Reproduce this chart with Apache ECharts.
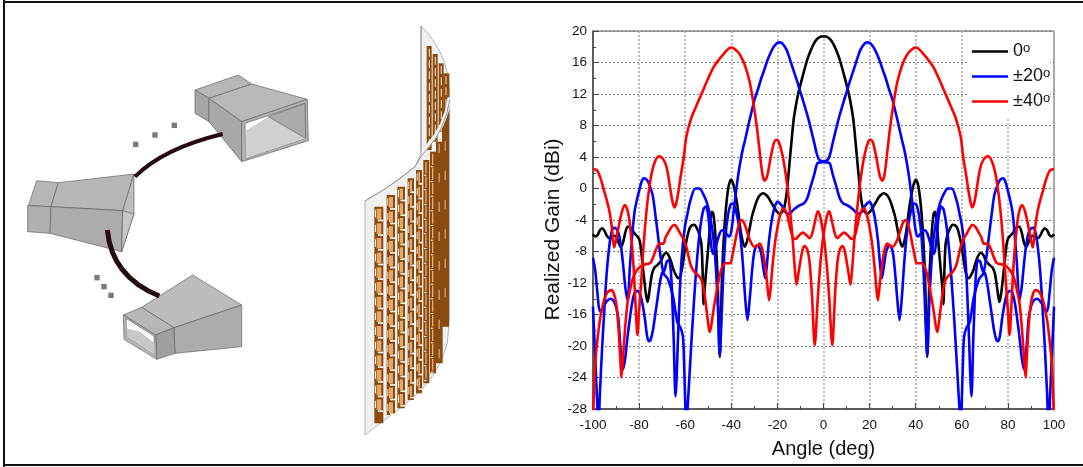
<!DOCTYPE html>
<html><head><meta charset="utf-8">
<style>html,body{margin:0;padding:0;background:#fff}#c{width:1083px;height:467px}</style>
<script src="https://cdn.jsdelivr.net/npm/echarts@6/dist/echarts.min.js"></script>
</head><body><div id="c"></div>
<script>
const FONT = '"Liberation Sans", Arial, sans-serif';
const xTicks = { min: -100, max: 100, step: 20 };
const yTicks = { min: -28, max: 20, step: 4 };
const legendNames = ['0', '±20', '±40'];

// 0° beam
const blackAngles = [-100,-99,-98,-97,-96,-95,-94,-93,-92,-91,-90,-89,-88,-87,-86,-85,-84,-83,-82,-81,-80,-79.5,-79,-78,-77,-76.3,-75.5,-74.5,-73.5,-72,-70.5,-69.5,-68.2,-67,-66,-65,-64,-63,-62,-61,-60,-59,-58,-57,-56,-55,-54,-53,-52.5,-52,-51.5,-51,-50,-49,-48.4,-47.8,-47,-46,-45,-44,-43,-42,-41,-40,-39,-38,-37,-36,-35,-34.2,-33,-32,-31,-30,-29,-28,-27,-26,-25,-24,-23,-22,-21,-20,-19,-18,-17,-16,-15,-14,-13,-12,-11,-10,-9,-8,-7,-6,-5,-4,-3,-2,-1,0,
1,2,3,4,5,6,7,8,9,10,11,12,13,14,15,16,17,18,19,20,21,22,23,24,25,26,27,28,29,30,31,32,33,34.2,35,36,37,38,39,40,41,42,43,44,45,46,47,47.8,48.4,49,50,51,51.5,52,52.5,53,54,55,56,57,58,59,60,61,62,63,64,65,66,67,68.2,69.5,70.5,72,73.5,74.5,75.5,76.3,77,78,79,79.5,80,81,82,83,84,85,86,87,88,89,90,91,92,93,94,95,96,97,98,99,100];
const blackGain = [-5.8,-6.1,-5.9,-5.3,-5.05,-5.4,-6,-6.3,-6.3,-6,-6.1,-6.8,-7.4,-6.9,-5.6,-4.85,-4.9,-5.3,-5.7,-6,-6.4,-7,-8.2,-11,-13.5,-14.4,-13,-11,-10.1,-9.7,-9.2,-8.5,-8.15,-8.6,-9.4,-10.4,-11,-11.4,-11,-9.5,-7.5,-6,-5,-4.65,-4.6,-5,-5.7,-7,-10,-14.7,-12.5,-10.8,-7.5,-4,-2.95,-3.2,-5.5,-11,-21.4,-11,-5,-1.5,0.5,1.15,0.4,-1,-2.9,-5.3,-6.8,-7.4,-6.5,-5,-3.5,-2.5,-1.6,-1,-0.7,-0.6,-0.8,-1.1,-1.6,-2.1,-2.6,-3,-3.2,-3,-2.4,-0.6,2.4,5.6,8.6,10.5,12,13.2,14.3,15.4,16.4,17.2,17.9,18.5,18.9,19.15,19.3,19.3,
19.3,19.15,18.9,18.5,17.9,17.2,16.4,15.4,14.3,13.2,12,10.5,8.6,5.6,2.4,-0.6,-2.4,-3,-3.2,-3,-2.6,-2.1,-1.6,-1.1,-0.8,-0.6,-0.7,-1,-1.6,-2.5,-3.5,-5,-6.5,-7.4,-6.8,-5.3,-2.9,-1,0.4,1.15,0.5,-1.5,-5,-11,-21.4,-11,-5.5,-3.2,-2.95,-4,-7.5,-10.8,-12.5,-14.7,-10,-7,-5.7,-5,-4.6,-4.65,-5,-6,-7.5,-9.5,-11,-11.4,-11,-10.4,-9.4,-8.6,-8.15,-8.5,-9.2,-9.7,-10.1,-11,-13,-14.4,-13.5,-11,-8.2,-7,-6.4,-6,-5.7,-5.3,-4.9,-4.85,-5.6,-6.9,-7.4,-6.8,-6.1,-6,-6.3,-6.3,-6,-5.4,-5.05,-5.3,-5.9,-6.1,-5.8];

// +20° beam; the -20° beam is its mirror image in the figure
const blueAngles = [-100,-99,-98,-97,-95.5,-94,-92.5,-91,-90,-89,-88,-87,-86,-85,-84,-83,-82,-81,-80,-79,-77.5,-76.5,-75.7,-75,-74,-73,-72,-71,-70,-69,-68,-67,-66,-65.5,-65,-64.2,-63,-62,-61,-60,-59,-58,-55.6,-54,-52,-50.5,-49,-47.5,-46.5,-45.7,-45,-44.3,-43.5,-42.5,-41.5,-40.5,-39.6,-39,-38,-37,-36,-35,-34,-33,-32,-31,-30,-28.7,-28,-27,-26,-25.3,-24.5,-23.6,-22.2,-21,-20,-18,-16.5,-15,-13,-11.3,-10,-8.5,-7,-5.6,-4,-2.7,-1.5,0,
1,2,3,4,5,6,7,8,9,10,11,12,13,14,15,16,17,18,19,20,21,22,23,24,25,26,27,28,29,30,31,32,33,34,35,36,37,38,39,40,41,42,43,44,45,46,47,48,49,50,51,52,53,54,55,56,57,58,59,59.6,60,60.5,61,62,63.4,65.3,67.5,69.3,70.5,71,72,73,74,75,76,77,78,79,80,81,82,83,84,85,86,87,88,89,90,91,92,93,94,95,96,97,97.6,98.5,100];
const blueGain = [-8.8,-10.5,-13.5,-15.6,-15,-14.3,-14,-14.3,-15,-16.5,-20.5,-23,-21.5,-18.8,-16.5,-14.5,-13.3,-13,-13.2,-14,-16.5,-18.8,-19.4,-19.2,-18,-16,-14,-12,-10.7,-10.4,-9.3,-9.1,-11.5,-15,-19,-26.4,-18,-11,-7,-4.6,-3.2,-1.8,0,0,-0.8,-1.9,-3.8,-7,-11,-16,-21.2,-17,-11,-6,-3.5,-2.2,-1.9,-2,-2.8,-4.2,-6.2,-9.5,-13.8,-16.7,-14,-10.5,-8,-7.2,-7.4,-8.3,-10.3,-11.4,-9.5,-6.5,-3.6,-2.2,-1.7,-2.2,-3,-3.2,-2.7,-2.3,-2.1,-1.9,-1.2,0.2,1.8,3.2,3.3,3.4,
3.5,3.7,4.5,5.8,7,8.2,9.3,10.3,11.3,12.2,13.2,14.1,15,15.9,16.8,17.6,18.1,18.45,18.56,18.5,18.2,17.8,17.2,16.5,15.7,14.8,14,13,12.1,11.2,10,8.8,7.5,6.2,5,3.5,1.7,-0.5,-3,-5.4,-6.1,-5.8,-5.4,-5.3,-5.7,-6.6,-7.7,-8.3,-6.5,-3.5,-2.3,-2.6,-4,-6.3,-9.5,-13.5,-18,-23,-28,-30,-27,-22,-18.8,-17.7,-17,-13.7,-11.5,-10.8,-9,-8,-5.5,-3.2,-1,0,0.8,1.2,1.3,0.8,-0.3,-1.5,-3,-6,-10,-14.2,-12.5,-9.5,-7,-5.6,-5.1,-5,-5.6,-7.5,-10.5,-15,-20,-26,-30,-25,-15];

// +40° beam; the -40° beam is its mirror image in the figure
const redAngles = [-100,-99.6,-99,-98,-97,-96,-95,-94,-93,-92,-91,-90,-89,-88,-87.7,-87,-86,-85,-84,-83,-82,-80.5,-78.3,-76.5,-75,-74,-73,-72,-71,-69.5,-68.5,-67,-66,-64.6,-63.5,-62,-61,-59.5,-58.5,-57.5,-56,-54.5,-53,-52,-51,-50,-49.4,-48.8,-47.5,-46,-45,-44,-42.5,-40.5,-39.4,-38.5,-37.5,-36.5,-35.6,-34.8,-34,-32,-30,-29,-27.7,-27,-26,-25,-24.2,-23.6,-23,-22,-21,-20,-19,-17.6,-16.5,-15.5,-14.5,-13.2,-12,-11,-9,-7.5,-6,-5,-4,-3,-2.4,-1.5,-0.5,
0.5,1.5,2.5,3.8,5,6,7,8.2,9,10,11,11.7,12.5,13.5,15,16.5,18,19.5,20.4,21.5,23,24.5,25.5,26.5,28,29,30.6,32,33.4,35,37,39,40,41,43,45,47.5,50,52.5,55,57.3,59.5,60.6,62,63,64,64.6,65.5,66.5,68,69.5,71.4,73,74.5,76,77,78,79,80,80.7,81.5,82.5,84,85,86.2,87.5,89,90.8,91.8,92.8,94,95,96.4,98,99,100];
const redGain = [-30,-26,-22,-19,-16.7,-15.2,-14,-13.3,-13,-12.9,-13.3,-14.5,-17.5,-22.5,-24,-21.5,-17.5,-14.5,-13,-11.7,-10.9,-10.2,-9.7,-9.6,-9.4,-8.8,-8,-7.3,-7,-7,-6.2,-5.4,-4.9,-4.6,-5,-5.8,-6.3,-7.4,-8.7,-9.8,-10.6,-11,-11.6,-12.7,-14.8,-17.2,-18.2,-17.6,-15,-12.5,-11,-10,-9.5,-9.5,-8.3,-7,-5.5,-4.4,-4,-4.2,-4.7,-6.5,-7.4,-7.3,-7,-7.3,-8.5,-10.5,-12.8,-14.2,-12.8,-9.5,-6.8,-5,-3.6,-2.5,-2.8,-3.6,-5,-6.3,-6.4,-6.1,-5.6,-5.9,-6.3,-5.8,-4.6,-3.3,-2.9,-3.5,-5,
-7,-10,-14,-19.9,-13.5,-9.5,-7.8,-7.3,-7.7,-9.2,-11,-12.2,-10,-6,-1.5,2,4.5,6,6.2,5.8,3.8,1.5,1,1.8,5.5,8,11.2,13.5,15,16.3,17.3,17.8,17.9,17.8,17.2,16.5,15.5,14,12.3,10.6,9,6.6,4,1.5,-0.5,-2,-2.4,-1.7,0,2.6,3.7,4.1,3.5,2,-0.8,-3.5,-7,-11.5,-15.5,-18.6,-15,-9.5,-4.5,-2.8,-2.1,-3,-5,-7.5,-5,-3,-1.5,-0.5,1,2.2,2.4,2.5];

function pair(a, v) { return a.map((x, i) => [x, v[i]]); }
function mirror(a, v) { return a.map((x, i) => [-x, v[i]]).reverse(); }

const LW = 2.6;
const LINE = { type: 'line', showSymbol: false, symbol: 'none', smooth: 0.3, clip: true, silent: true, animation: false };
const series = [
  Object.assign({}, LINE, { name: legendNames[0], data: pair(blackAngles, blackGain), z: 3, lineStyle: { color: '#000', width: LW }, itemStyle: { color: '#000' } }),
  Object.assign({}, LINE, { name: legendNames[1], data: pair(blueAngles, blueGain), z: 4, lineStyle: { color: '#0000ff', width: LW }, itemStyle: { color: '#0000ff' } }),
  Object.assign({}, LINE, { name: legendNames[1], data: mirror(blueAngles, blueGain), z: 4, lineStyle: { color: '#0000ff', width: LW }, itemStyle: { color: '#0000ff' } }),
  Object.assign({}, LINE, { name: legendNames[2], data: pair(redAngles, redGain), z: 5, lineStyle: { color: '#ff0000', width: LW }, itemStyle: { color: '#ff0000' } }),
  Object.assign({}, LINE, { name: legendNames[2], data: mirror(redAngles, redGain), z: 5, lineStyle: { color: '#ff0000', width: LW }, itemStyle: { color: '#ff0000' } })
];

/* ---------- illustration (not data): coordinates are in crop pixels ---------- */
const art = [];
function poly(pts, ox, oy, fill, stroke) {
  art.push({ type: 'polygon', silent: true, z: 1,
    shape: { points: pts.map(p => [p[0] / 3 + ox, p[1] / 3 + oy]) },
    style: { fill: fill, stroke: stroke === 'none' ? null : (stroke || '#666'), lineWidth: stroke === 'none' ? 0 : 0.7 } });
}
const hx = 0, hy = 60;
// top horn
poly([[585,90],[715,45],[755,72],[627,115]], hx, hy, '#b6b6b6');
poly([[627,115],[755,72],[922,118],[725,185]], hx, hy, '#b8b8b8');
poly([[585,90],[627,115],[627,185],[585,160]], hx, hy, '#a6a6a6');
poly([[627,115],[725,185],[725,305],[627,185]], hx, hy, '#a8a8a8');
poly([[725,185],[922,118],[925,242],[725,305]], hx, hy, '#b2b2b2');
poly([[735,190],[915,130],[917,235],[737,295]], hx, hy, '#ffffff');
poly([[737,212],[805,170],[917,235],[737,295]], hx, hy, '#d0d0d0', 'none');
poly([[805,170],[915,130],[917,235]], hx, hy, '#ababab');
// middle horn
poly([[85,437],[110,362],[175,368],[153,440]], hx, hy, '#b6b6b6');
poly([[83,437],[153,440],[150,520],[83,515]], hx, hy, '#b0b0b0');
poly([[153,440],[175,368],[402,342],[368,452]], hx, hy, '#b6b6b6');
poly([[153,440],[368,452],[365,575],[150,520]], hx, hy, '#adadad');
poly([[368,452],[402,342],[402,462],[365,575]], hx, hy, '#bdbdbd');
poly([[368,452],[402,462],[365,575]], hx, hy, '#c6c6c6');
// bottom horn
poly([[425,742],[578,645],[725,735],[522,803]], hx, hy, '#bcbcbc');
poly([[522,803],[725,735],[725,860],[525,880]], hx, hy, '#acacac');
poly([[370,765],[425,742],[522,803],[467,825]], hx, hy, '#b6b6b6');
poly([[467,825],[522,803],[525,880],[470,898]], hx, hy, '#9f9f9f');
poly([[370,765],[467,825],[470,898],[372,838]], hx, hy, '#b6b6b6');
poly([[378,775],[462,828],[464,885],[380,830]], hx, hy, '#ffffff');
poly([[380,805],[420,815],[464,850],[464,885],[380,830]], hx, hy, '#c8c8c8', 'none');
// feed cables
function cable(a, c, b, w) {
  art.push({ type: 'bezierCurve', silent: true, z: 2,
    shape: { x1: a[0]/3+hx, y1: a[1]/3+hy, cpx1: c[0]/3+hx, cpy1: c[1]/3+hy, x2: b[0]/3+hx, y2: b[1]/3+hy },
    style: { stroke: '#250a0e', lineWidth: w, fill: 'none', lineCap: 'butt' } });
}
cable([405,350], [490,265], [668,222], 4);
cable([322,510], [335,650], [478,708], 5);
[[407,253],[465,225],[523,196],[291,653],[312,680],[333,706]].forEach(p => {
  art.push({ type: 'rect', silent: true, z: 2,
    shape: { x: p[0]/3+hx-2.7, y: p[1]/3+hy-2.7, width: 5.4, height: 5.4 }, style: { fill: '#7a7a7a' } });
});
// curved array sheet
const wx = 340, wy = 10;
poly([[243,48],[270,78],[295,115],[315,160],[326,210],[329,250],[329,920],[322,1000],[305,1050],[280,1095],[240,1145],[180,1195],[75,1275],[75,573],[130,540],[180,505],[225,470],[243,430]], wx, wy, '#f0f0f0', '#8f96a0');
function rect(x, y, w, h, fill) {
  art.push({ type: 'rect', silent: true, z: 1, shape: { x: x/3+wx, y: y/3+wy, width: w/3, height: h/3 }, style: { fill: fill } });
}
// back part of the sheet, above the fold
[[260,108,420],[278,132,395],[296,160,365],[310,190,330]].forEach(c => {
  rect(c[0], c[1], c[0] === 310 ? 18 : 15, c[2] - c[1], '#8a4a10');
  for (let y = c[1] + 8; y < c[2] - 20; y += 34) rect(c[0] + 6, y, 4, 24, '#e8c090');
});
// front columns: left, right, top, bottom, style
const cols = [[103,130,590,1240,0],[140,165,555,1215,0],[172,195,530,1195,0],[203,222,505,1170,0],[228,246,480,1150,0],[250,268,450,1120,1],[270,288,425,1090,1],[288,308,395,1060,2],[306,327,300,950,2]];
cols.forEach(c => {
  const t = c[2], b = c[3], w = c[1] - c[0];
  rect(c[0], t, w, b - t, '#8a4a10');
  for (let y = t + 6, n = 0; y < b - 30; y += 44, n++) {
    if (c[4] === 0) {
      rect(c[0] + 7, y, w - 13, 32, '#e3a86a');
      rect(c[0] + w * 0.4, y + 33, w * 0.6, 5, '#fff3e0');
      rect(c[0] + 2, y + 4, 3, 22, '#f5ead8');
    } else if (c[4] === 1) {
      rect(c[0] + 6, y, 4, 34, '#e8b070');
      rect(c[0] + 2, y + 38, 8, 3, '#fff3e0');
    } else if (n % 2 === 0) {
      rect(c[0] + 8, y, 3, 28, '#e8c090');
    }
  }
});
// fold of the sheet, in front of the back columns
art.push({ type: 'polyline', silent: true, z: 1,
  shape: { points: [[243,432],[262,408],[285,380],[305,345],[320,305],[329,262]].map(p => [p[0]/3+wx, p[1]/3+wy]) },
  style: { stroke: '#f0f0f0', lineWidth: 4, fill: null } });
art.push({ type: 'polyline', silent: true, z: 1,
  shape: { points: [[75,573],[130,540],[180,505],[225,470],[243,440],[262,416],[285,388],[305,352],[320,312],[329,270]].map(p => [p[0]/3+wx, p[1]/3+wy]) },
  style: { stroke: '#8f96a0', lineWidth: 1, fill: null } });
art.push({ type: 'line', silent: true, z: 1, shape: { x1: 243/3+wx, y1: 48/3+wy, x2: 243/3+wx, y2: 432/3+wy }, style: { stroke: '#8f96a0', lineWidth: 1 } });
// frame: left, top, bottom
[[4,0,4,467],[3,2,1083,2],[3,465,1083,465]].forEach(l => {
  art.push({ type: 'line', silent: true, z: 0, shape: { x1: l[0], y1: l[1], x2: l[2], y2: l[3] }, style: { stroke: '#111', lineWidth: 2 } });
});

const chart = echarts.init(document.getElementById('c'), null, { renderer: 'canvas' });
chart.setOption({
  animation: false,
  backgroundColor: '#fff',
  textStyle: { fontFamily: FONT },
  grid: { left: 593, top: 31, width: 461, height: 378, show: true, borderColor: '#555', borderWidth: 1, backgroundColor: 'transparent' },
  xAxis: {
    type: 'value', min: xTicks.min, max: xTicks.max, interval: xTicks.step,
    name: 'Angle (deg)', nameLocation: 'middle', nameGap: 30,
    nameTextStyle: { fontSize: 20, color: '#111', fontFamily: FONT },
    axisLine: { show: true, onZero: false, lineStyle: { color: '#444', width: 1.5 } },
    axisTick: { show: true, inside: true, length: 6, lineStyle: { color: '#444', width: 1 } },
    minorTick: { show: true, splitNumber: 2, length: 3, lineStyle: { color: '#444', width: 1 } },
    axisLabel: { fontSize: 13.5, color: '#111', margin: 9, fontFamily: FONT },
    splitLine: { show: true, lineStyle: { color: '#aaa', type: [2, 2], width: 1.5 } }
  },
  yAxis: {
    type: 'value', min: yTicks.min, max: yTicks.max, interval: yTicks.step,
    name: 'Realized Gain (dBi)', nameLocation: 'middle', nameGap: 27, nameRotate: 90,
    nameTextStyle: { fontSize: 21, color: '#111', fontFamily: FONT, padding: [0, 19, 0, 0] },
    axisLine: { show: true, onZero: false, lineStyle: { color: '#444', width: 1.5 } },
    axisTick: { show: true, inside: true, length: 6, lineStyle: { color: '#444', width: 1 } },
    minorTick: { show: true, splitNumber: 2, length: 3, lineStyle: { color: '#444', width: 1 } },
    axisLabel: { fontSize: 13.5, color: '#111', margin: 6, fontFamily: FONT },
    splitLine: { show: true, lineStyle: { color: '#777', type: [2, 2], width: 1 } }
  },
  legend: {
    show: true, left: 967, top: 32, orient: 'vertical', itemGap: 6, itemWidth: 36, itemHeight: 19,
    padding: [10, 0, 8, 5], backgroundColor: '#fff', selectedMode: false, z: 6,
    data: legendNames,
    icon: 'path://M0,0 L36,0 L36,2.6 L0,2.6 Z',
    textStyle: { fontSize: 18, color: '#111', fontFamily: FONT, lineHeight: 19,
      rich: { sup: { fontSize: 13, verticalAlign: 'top', lineHeight: 12, color: '#111' } } },
    formatter: n => n + '{sup|o}'
  },
  series: series,
  graphic: { elements: art }
});
</script></body></html>
